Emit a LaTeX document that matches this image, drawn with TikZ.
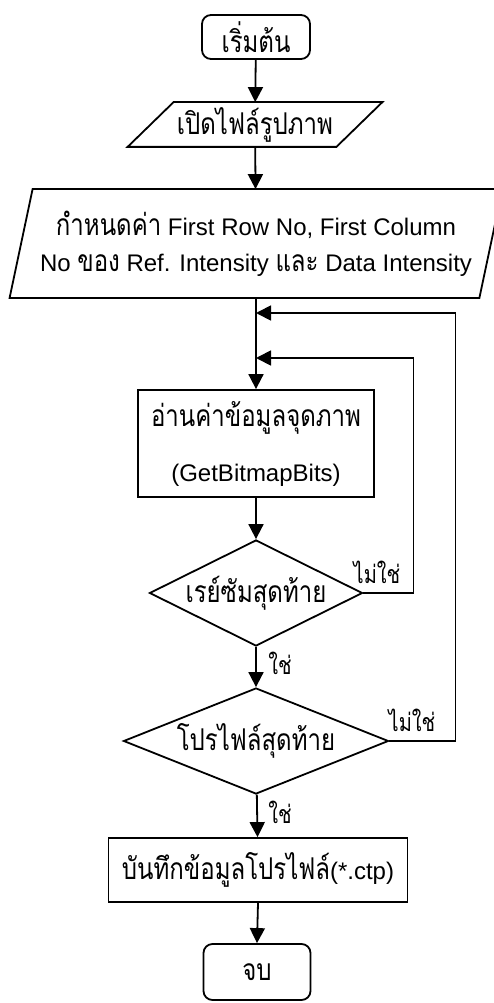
\documentclass[tikz,border=0pt]{standalone}
\usepackage{fontspec}
\setmainfont{Liberation Sans}
\newfontfamily\thaifont[Script=Thai,Scale=1.25,FakeStretch=0.8]{Loma}
\usetikzlibrary{shapes.geometric,arrows.meta,calc}
\newcommand{\thx}[1]{{\thaifont #1}}
\begin{document}
\begin{tikzpicture}[x=1pt,y=-1pt,
  line width=1.8pt,
  arr/.style={-{Triangle[width=15pt,length=15pt]}},
  base/.style={draw, line width=1.8pt, inner sep=0pt, align=center, font=\fontsize{24}{30}\selectfont},
  term/.style={base, rectangle, rounded corners=9pt},
  proc/.style={base, rectangle},
  dia/.style={base, diamond},
  iobox/.style={rectangle, inner sep=0pt, align=center, font=\fontsize{24}{36}\selectfont},
  lbl/.style={inner sep=0pt, font=\fontsize{20}{24}\selectfont}]
\useasboundingbox (0,0) rectangle (493,1003);
\fill[white] (0,0) rectangle (493,1003);

\node[term, minimum width=108pt, minimum height=44pt] (start) at (256,37) {\thx{เริ่มต้น}};

\node[iobox, minimum width=207pt, minimum height=43pt] (p1) at (255,124.5) {\thx{เปิดไฟล์รูปภาพ}};
\draw ($(p1.north west)+(23,0)$) -- ($(p1.north east)+(23,0)$) -- ($(p1.south east)+(-23,0)$) -- ($(p1.south west)+(-23,0)$) -- cycle;

\node[iobox, minimum width=468pt, minimum height=107pt] (p2) at (256,243.5) {\thx{กำหนดค่า} First Row No, First Column\\ No \thx{ของ} Ref. Intensity \thx{และ} Data Intensity};
\draw ($(p2.north west)+(11.5,0)$) -- ($(p2.north east)+(11.5,0)$) -- ($(p2.south east)+(-11.5,0)$) -- ($(p2.south west)+(-11.5,0)$) -- cycle;

\node[proc, minimum width=236pt, minimum height=107pt, font=\fontsize{24}{55}\selectfont] (r2) at (256,443.5) {\thx{อ่านค่าข้อมูลจุดภาพ}\\(GetBitmapBits)};

\node[dia, minimum width=213pt, minimum height=106pt] (d1) at (256,593) {};
\node[inner sep=0pt, font=\fontsize{24}{30}\selectfont] (t1) at (d1) {\thx{เรย์ซัมสุดท้าย}};

\node[dia, minimum width=265pt, minimum height=106pt] (d2) at (256,741) {};
\node[inner sep=0pt, font=\fontsize{24}{30}\selectfont] (t2) at (d2) {\thx{โปรไฟล์สุดท้าย}};

\node[proc, minimum width=299pt, minimum height=64pt] (r3) at (258,870) {\thx{บันทึกข้อมูลโปรไฟล์}(*.ctp)};

\node[term, minimum width=107pt, minimum height=56pt] (stop) at (257,972) {\thx{จบ}};

\coordinate (j1) at (256,313);
\coordinate (j2) at (256,358);

\draw[arr] (start) -- (p1);
\draw[arr] (p1) -- (p2);
\draw[arr] (p2) -- (r2);
\draw[arr] (r2) -- (d1);
\draw[arr] (d1) -- (d2);
\draw[arr] (d2) -- (r3);
\draw[arr] (r3.south) -- (stop.north);
\draw[arr] (d1.east) -- ++(50,0) |- (j2);
\draw[arr] (d2.east) -- ++(66,0) |- (j1);

\node[lbl] (n1) at (377,572) {\thx{ไม่ใช่}};
\node[lbl] (n2) at (412,720) {\thx{ไม่ใช่}};
\node[lbl] (y1) at (280,663) {\thx{ใช่}};
\node[lbl] (y2) at (280,812) {\thx{ใช่}};
\end{tikzpicture}
\end{document}
